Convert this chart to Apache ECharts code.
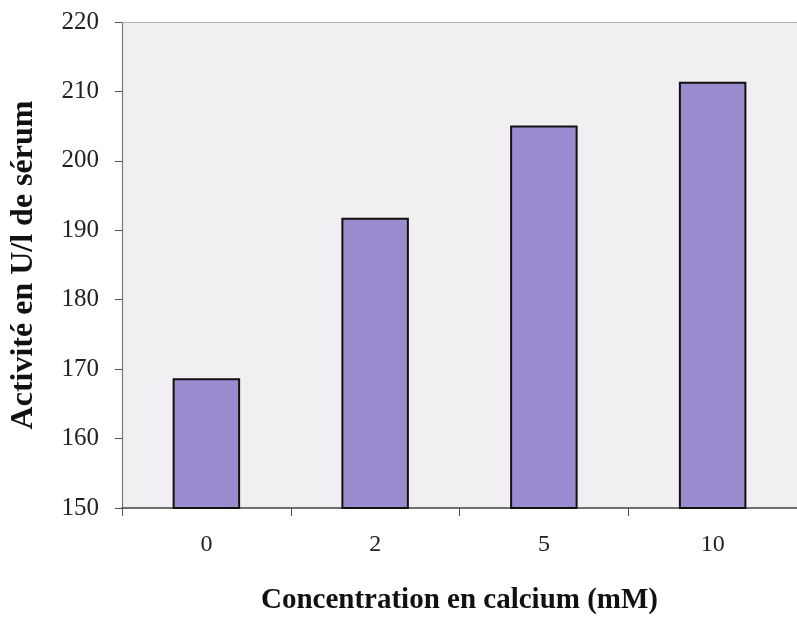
<!DOCTYPE html>
<html><head><meta charset="utf-8">
<script src="https://cdn.jsdelivr.net/npm/echarts@6/dist/echarts.min.js"></script>
<style>html,body{margin:0;padding:0;background:#fff}#c{width:797px;height:620px}</style>
</head><body><div id="c"></div>
<script>
const categories = ['0', '2', '5', '10'];
const values = [168.7, 191.8, 205.1, 211.4];
const yMin = 150, yMax = 220, yStep = 10;

const chart = echarts.init(document.getElementById('c'));
chart.setOption({
  animation: false,
  backgroundColor: '#ffffff',
  grid: { left: 120, top: 22, width: 680, height: 486, backgroundColor: '#f1eff1', show: true, borderWidth: 0 },
  xAxis: [{
    type: 'category', data: categories,
    name: 'Concentration en calcium (mM)', nameLocation: 'middle', nameGap: 78,
    nameTextStyle: { fontFamily: 'Liberation Serif', fontWeight: 'bold', fontSize: 29, color: '#111' },
    axisLine: { lineStyle: { color: '#444', width: 1.5 } },
    axisTick: { show: true, length: 8, lineStyle: { color: '#555' } },
    axisLabel: { fontFamily: 'Liberation Serif', fontSize: 24, color: '#222', margin: 25 }
  }, {
    type: 'category', data: categories, position: 'top',
    axisLine: { show: true, lineStyle: { color: '#aaa', width: 1, type: 'dotted' } },
    axisTick: { show: false }, axisLabel: { show: false }
  }],
  yAxis: {
    type: 'value', min: yMin, max: yMax, interval: yStep,
    name: 'Activité en U/l de sérum', nameLocation: 'middle', nameGap: 82,
    nameTextStyle: { fontFamily: 'Liberation Serif', fontWeight: 'bold', fontSize: 32, color: '#111' },
    axisLine: { show: true, lineStyle: { color: '#777', width: 1.2 } },
    axisTick: { show: true, length: 7, lineStyle: { color: '#555' } },
    splitLine: { show: false },
    axisLabel: { fontFamily: 'Liberation Serif', fontSize: 25, color: '#222', margin: 23 }
  },
  series: [{
    type: 'bar', data: values, barWidth: '40%',
    itemStyle: { color: '#9d8bcf', borderColor: '#111', borderWidth: 2 }
  }]
});
</script></body></html>
